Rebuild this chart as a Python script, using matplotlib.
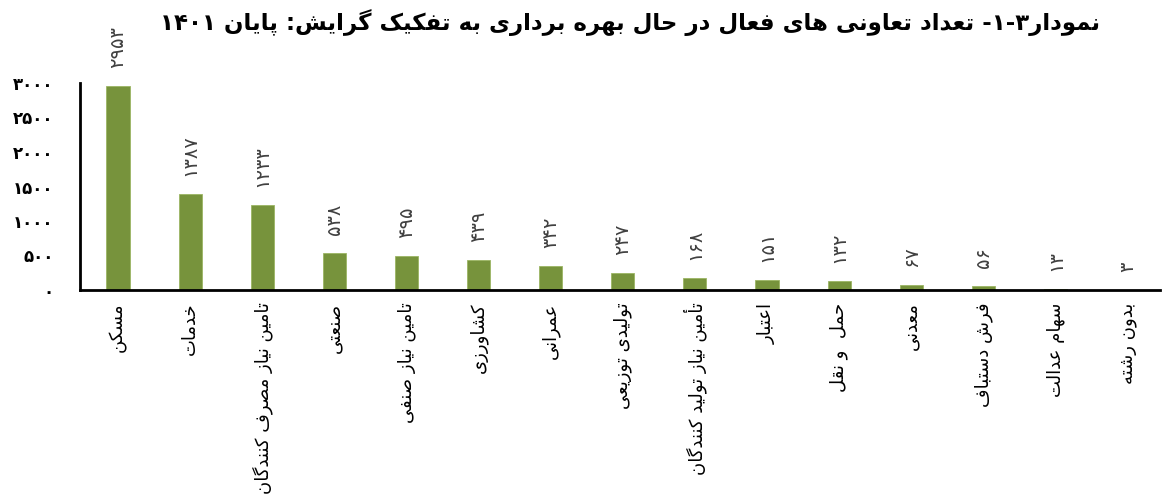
import matplotlib
matplotlib.use("Agg")
import matplotlib.pyplot as plt

# data
categories = ["مسکن", "خدمات", "تامین نیاز مصرف کنندگان", "صنعتی", "تامین نیاز صنفی",
              "کشاورزی", "عمرانی", "تولیدی توزیعی", "تأمین نیاز تولید کنندگان", "اعتبار",
              "حمل  و نقل", "معدنی", "فرش دستباف", "سهام عدالت", "بدون رشته"]
counts = [2953, 1387, 1233, 538, 495, 439, 342, 247, 168, 151, 132, 67, 56, 13, 3]
yticks = [0, 500, 1000, 1500, 2000, 2500, 3000]
title = "نمودار3-1- تعداد تعاونی های فعال در حال بهره برداری به تفکیک گرایش: پایان 1401"

# minimal Persian shaping: presentation forms + visual (reversed) order
FA_DIGITS = str.maketrans("0123456789", "۰۱۲۳۴۵۶۷۸۹")
_AR = {'ا': (0xFE8D, 2), 'آ': (0xFE81, 2), 'أ': (0xFE83, 2), 'ؤ': (0xFE85, 2),
       'إ': (0xFE87, 2), 'ئ': (0xFE89, 4), 'ب': (0xFE8F, 4), 'پ': (0xFB56, 4),
       'ة': (0xFE93, 2), 'ت': (0xFE95, 4), 'ث': (0xFE99, 4), 'ج': (0xFE9D, 4),
       'چ': (0xFB7A, 4), 'ح': (0xFEA1, 4), 'خ': (0xFEA5, 4), 'د': (0xFEA9, 2),
       'ذ': (0xFEAB, 2), 'ر': (0xFEAD, 2), 'ز': (0xFEAF, 2), 'ژ': (0xFB8A, 2),
       'س': (0xFEB1, 4), 'ش': (0xFEB5, 4), 'ص': (0xFEB9, 4), 'ض': (0xFEBD, 4),
       'ط': (0xFEC1, 4), 'ظ': (0xFEC5, 4), 'ع': (0xFEC9, 4), 'غ': (0xFECD, 4),
       'ف': (0xFED1, 4), 'ق': (0xFED5, 4), 'ک': (0xFB8E, 4), 'گ': (0xFB92, 4),
       'ل': (0xFEDD, 4), 'م': (0xFEE1, 4), 'ن': (0xFEE5, 4), 'ه': (0xFEE9, 4),
       'و': (0xFEED, 2), 'ی': (0xFBFC, 4)}


def fa(s):
    chars = list(str(s).translate(FA_DIGITS))
    shaped = []
    for i, c in enumerate(chars):
        if c not in _AR:
            shaped.append(c)
            continue
        start, k = _AR[c]
        prev = chars[i - 1] if i > 0 else None
        nxt = chars[i + 1] if i + 1 < len(chars) else None
        jp = prev in _AR and _AR[prev][1] == 4
        jn = k == 4 and nxt in _AR
        form = 3 if (jp and jn) else 1 if jp else 2 if jn else 0
        shaped.append(chr(start + form))
    tokens = []
    for c in shaped:
        if c.isdigit() and tokens and tokens[-1][-1].isdigit():
            tokens[-1] += c
        else:
            tokens.append(c)
    return "".join(reversed(tokens))


plt.rcParams["font.family"] = ["DejaVu Sans"]

fig = plt.figure(figsize=(11.62, 4.95), dpi=100)
ax = fig.add_axes([80 / 1162, 1 - 290 / 495, 1080 / 1162, 207 / 495])

x = list(range(len(categories)))
ax.bar(x, counts, width=0.32, color="#77933C", edgecolor="#9BB563", linewidth=0.6)
for xi, v in zip(x, counts):
    ax.annotate(fa(v), (xi, v), xytext=(0, 13), textcoords="offset points",
                rotation=90, ha="center", va="bottom", color="#404040", fontsize=14)

ax.set_xlim(-0.527, 14.45)
ax.set_ylim(0, 3000)
ax.set_yticks(yticks, [fa(t) for t in yticks], fontsize=12, fontweight="bold")
ax.set_xticks(x, [fa(c) for c in categories], rotation=90, fontsize=13)
ax.tick_params(axis="y", length=0, pad=19)
ax.tick_params(axis="x", length=0, pad=9)
for side in ["top", "right"]:
    ax.spines[side].set_visible(False)
for side in ["left", "bottom"]:
    ax.spines[side].set_linewidth(2)
    ax.spines[side].set_color("black")

fig.text(0.542, 0.955, fa(title), ha="center", va="center",
         fontsize=16.5, fontweight="bold")

fig.savefig("out.png", dpi=100)
